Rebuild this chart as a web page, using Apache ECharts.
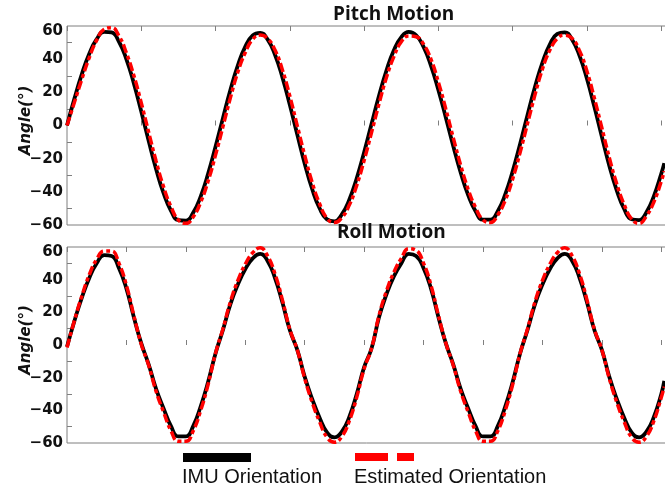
<!DOCTYPE html>
<html lang="en">
<head>
  <meta charset="UTF-8">
  <title>Pitch / Roll</title>
  <style>
    html, body { margin: 0; padding: 0; background: #fff; }
    #chart { width: 665px; height: 486px; }
  </style>
</head>
<body>
  <div id="chart"></div>
  <script src="https://cdn.jsdelivr.net/npm/echarts@6/dist/echarts.min.js"></script>
  <script>
    // sample times (same for every curve)
    const t = [
      0, 0.1, 0.2, 0.3, 0.4, 0.5, 0.6, 0.7, 0.8, 0.9,
      1.0, 1.1, 1.2, 1.3, 1.4, 1.5, 1.6, 1.7, 1.8, 1.9,
      2.0, 2.1, 2.2, 2.3, 2.4, 2.5, 2.6, 2.7, 2.8, 2.9,
      3.0, 3.1, 3.2, 3.3, 3.4, 3.5, 3.6, 3.7, 3.8, 3.9,
      4.0, 4.1, 4.2, 4.3, 4.4, 4.5, 4.6, 4.7, 4.8, 4.9,
      5.0, 5.1, 5.2, 5.3, 5.4, 5.5, 5.6, 5.7, 5.8, 5.9,
      6.0, 6.1, 6.2, 6.3, 6.4, 6.5, 6.6, 6.7, 6.8, 6.9,
      7.0, 7.1, 7.2, 7.3, 7.4, 7.5, 7.6, 7.7, 7.8, 7.9,
      8.0, 8.04
    ]

    // Pitch motion
    const pitchImu = [
      0, 16.2, 31.0, 43.3, 52.1, 56.5, 56.1, 50.5, 39.9, 25.4,
      8.4, -9.4, -26.3, -40.8, -51.4, -57.1, -57.4, -52.5, -42.7, -29.0,
      -12.7, 4.6, 21.5, 36.2, 47.6, 54.3, 55.9, 51.9, 42.7, 29.0,
      12.4, -5.5, -23.0, -38.3, -49.9, -56.6, -57.8, -53.6, -44.7, -31.8,
      -16.1, 1.0, 17.9, 33.1, 45.4, 53.3, 56.5, 54.4, 47.4, 36.0,
      21.3, 4.7, -12.5, -28.5, -42.0, -51.7, -56.8, -56.8, -51.5, -41.4,
      -27.5, -11.0, 6.5, 23.3, 37.9, 48.9, 55.2, 56.2, 51.7, 42.0,
      28.0, 11.1, -6.8, -24.2, -39.1, -50.3, -56.5, -57.0, -52.3, -42.6,
      -29.0, -22.7
    ]
    const pitchEst = [
      0, 14, 28, 41, 51.5, 58, 59, 54, 43.7, 30.1,
      13.6, -4.2, -21.6, -37.0, -49.0, -57, -59, -55, -46.2, -33.5,
      -17.7, -0.5, 16.8, 32.3, 44, 52, 54.5, 52.5, 45.5, 33.5,
      17.6, -0.2, -18.1, -34.3, -47.2, -56, -58.5, -55.6, -48.0, -36.1,
      -21.0, -4.1, 13.1, 29.0, 41.5, 50.5, 54, 53.5, 49, 39.9,
      26.0, 9.8, -7.5, -24.1, -38.5, -49.5, -57, -58.5, -53.8, -45.0,
      -32.1, -16.1, 1.4, 18.6, 34.1, 45.5, 52.5, 54.5, 52.5, 45,
      32.6, 16.3, -1.5, -19.4, -35.2, -47.7, -56.5, -59, -54.5, -46.1,
      -33.6, -27.5
    ]

    // Roll motion
    const rollImu = [
      -1, 14.7, 29, 41, 50, 55, 54.5, 47, 34.5, 17,
      1, -12, -27, -38.8, -49.7, -56, -56, -49.5, -37.5, -22.5,
      -5, 9.3, 25, 37, 46.5, 53, 55.8, 51.5, 41, 26,
      9, -3, -19.5, -33, -44.5, -53.5, -56.5, -53, -44, -30,
      -13.5, -2, 17, 31, 42, 50, 55.8, 54.5, 47, 34.5,
      17, 1, -12, -27, -38.8, -49.7, -56, -56, -49.5, -37.5,
      -22.5, -5, 9.3, 25, 37, 46.5, 53, 55.8, 51.5, 41,
      26, 9, -3, -19.5, -33, -44.5, -53.5, -56.5, -53, -44,
      -30, -22
    ]
    const rollEst = [
      -1.5, 15, 30, 43, 52.5, 57.5, 57.5, 50, 36.5, 18,
      0.5, -12.5, -28.5, -41, -52.5, -59, -59, -52.5, -40, -24,
      -5, 10, 26.5, 39.5, 49.5, 56.5, 59.5, 54.5, 43.5, 27.5,
      9.5, -3, -20.5, -35, -47, -56.5, -59.5, -56, -46.5, -32,
      -14.5, -2, 18, 33, 44.5, 53, 59, 58, 50, 36.5,
      18, 1, -12.5, -28.5, -41, -52.5, -59, -59, -52.5, -40,
      -24, -5, 10, 26.5, 39.5, 49.5, 56.5, 59.5, 54.5, 43.5,
      27.5, 9.5, -3, -20.5, -35, -47, -56.5, -59.5, -56, -46.5,
      -32, -25.5
    ]

    const yLabels = [-60, -40, -20, 0, 20, 40, 60]
    const yMinorTicks = [-50, -30, -10, 10, 30, 50]
    const names = ['IMU Orientation', 'Estimated Orientation']
    const titles = ['Pitch Motion', 'Roll Motion']

    const frame = '#7f7f7f'
    const labelFont = { fontFamily: 'DejaVu Sans', fontWeight: 'bold', fontSize: 15, color: '#111' }
    const pair = arr => t.map((x, i) => [x, arr[i]])

    const xAx = (gridIndex, position, interval) => ({
      type: 'value', gridIndex, position, min: 0, max: 8.09, interval,
      axisLine: { show: false },
      axisTick: { inside: true, length: 5, lineStyle: { color: frame } },
      axisLabel: { show: false },
      splitLine: { show: false }
    })

    const yAx = gridIndex => ({
      type: 'value', gridIndex, min: -60, max: 60, interval: 10,
      name: 'Angle(°)', nameLocation: 'middle', nameRotate: 90, nameGap: 33,
      nameMoveOverlap: false,
      nameTextStyle: { fontFamily: 'DejaVu Sans', fontStyle: 'italic', fontWeight: 'bold', fontSize: 15, color: '#111',
        padding: [0, 0, 0, 10] },
      axisLine: { show: false },
      axisTick: { inside: true, length: 5, customValues: yMinorTicks, lineStyle: { color: frame } },
      axisLabel: Object.assign({
        customValues: yLabels, margin: 4,
        // top label sits a little below the frame line, as in the source
        formatter: v => (v === 60 ? '{top|60}' : v < 0 ? '\u2212' + Math.abs(v) : String(v)),
        rich: { top: Object.assign({ padding: [11, 0, 0, 0] }, labelFont) }
      }, labelFont),
      splitLine: { show: false }
    })

    const line = (name, arr, xi, yi, est) => ({
      name, type: 'line', xAxisIndex: xi, yAxisIndex: yi,
      data: pair(arr), smooth: true, showSymbol: false, clip: false,
      itemStyle: { color: est ? '#ff0000' : '#000' },
      lineStyle: est
        ? { color: '#ff0000', width: 3.5, type: [9, 3, 4, 3] }
        : { color: '#000', width: 3.8 },
      z: est ? 3 : 2
    })

    const titleFont = { fontFamily: 'Open Sans', fontWeight: 'bold', fontSize: 19, color: '#111' }

    const chart = echarts.init(document.getElementById('chart'))
    chart.setOption({
      animation: false,
      title: [
        { text: titles[0], left: 333, top: 5, padding: 0, textStyle: titleFont },
        { text: titles[1], left: 337, top: 223, padding: 0, textStyle: titleFont }
      ],
      grid: [
        { left: 67, top: 26, width: 601, height: 199, show: true, borderColor: frame, borderWidth: 1,
          outerBoundsMode: 'none', containLabel: false },
        { left: 67, top: 247, width: 601, height: 196, show: true, borderColor: frame, borderWidth: 1,
          outerBoundsMode: 'none', containLabel: false }
      ],
      xAxis: [xAx(0, 'bottom', 1), xAx(0, 'top', 1), xAx(1, 'bottom', 0.8), xAx(1, 'top', 0.8)],
      yAxis: [yAx(0), yAx(1)],
      legend: [
        { data: [names[0]], left: 183, top: 453, padding: 0, itemWidth: 68, itemHeight: 9,
          icon: 'rect', formatter: () => '', itemStyle: { borderWidth: 0 } },
        { data: [names[1]], left: 355, top: 453, padding: 0, itemWidth: 59, itemHeight: 8,
          icon: 'path://M0 0H33V8H0Z M42 0H59V8H42Z', formatter: () => '', itemStyle: { borderWidth: 0 } }
      ],
      graphic: [
        { type: 'text', x: 182, y: 467, style: { text: names[0], font: '20px "Liberation Sans"', fill: '#111' } },
        { type: 'text', x: 354, y: 467, style: { text: names[1], font: '20px "Liberation Sans"', fill: '#111' } }
      ],
      series: [
        line(names[0], pitchImu, 0, 0, false),
        line(names[1], pitchEst, 0, 0, true),
        line(names[0], rollImu, 2, 1, false),
        line(names[1], rollEst, 2, 1, true)
      ]
    })
  </script>
</body>
</html>
